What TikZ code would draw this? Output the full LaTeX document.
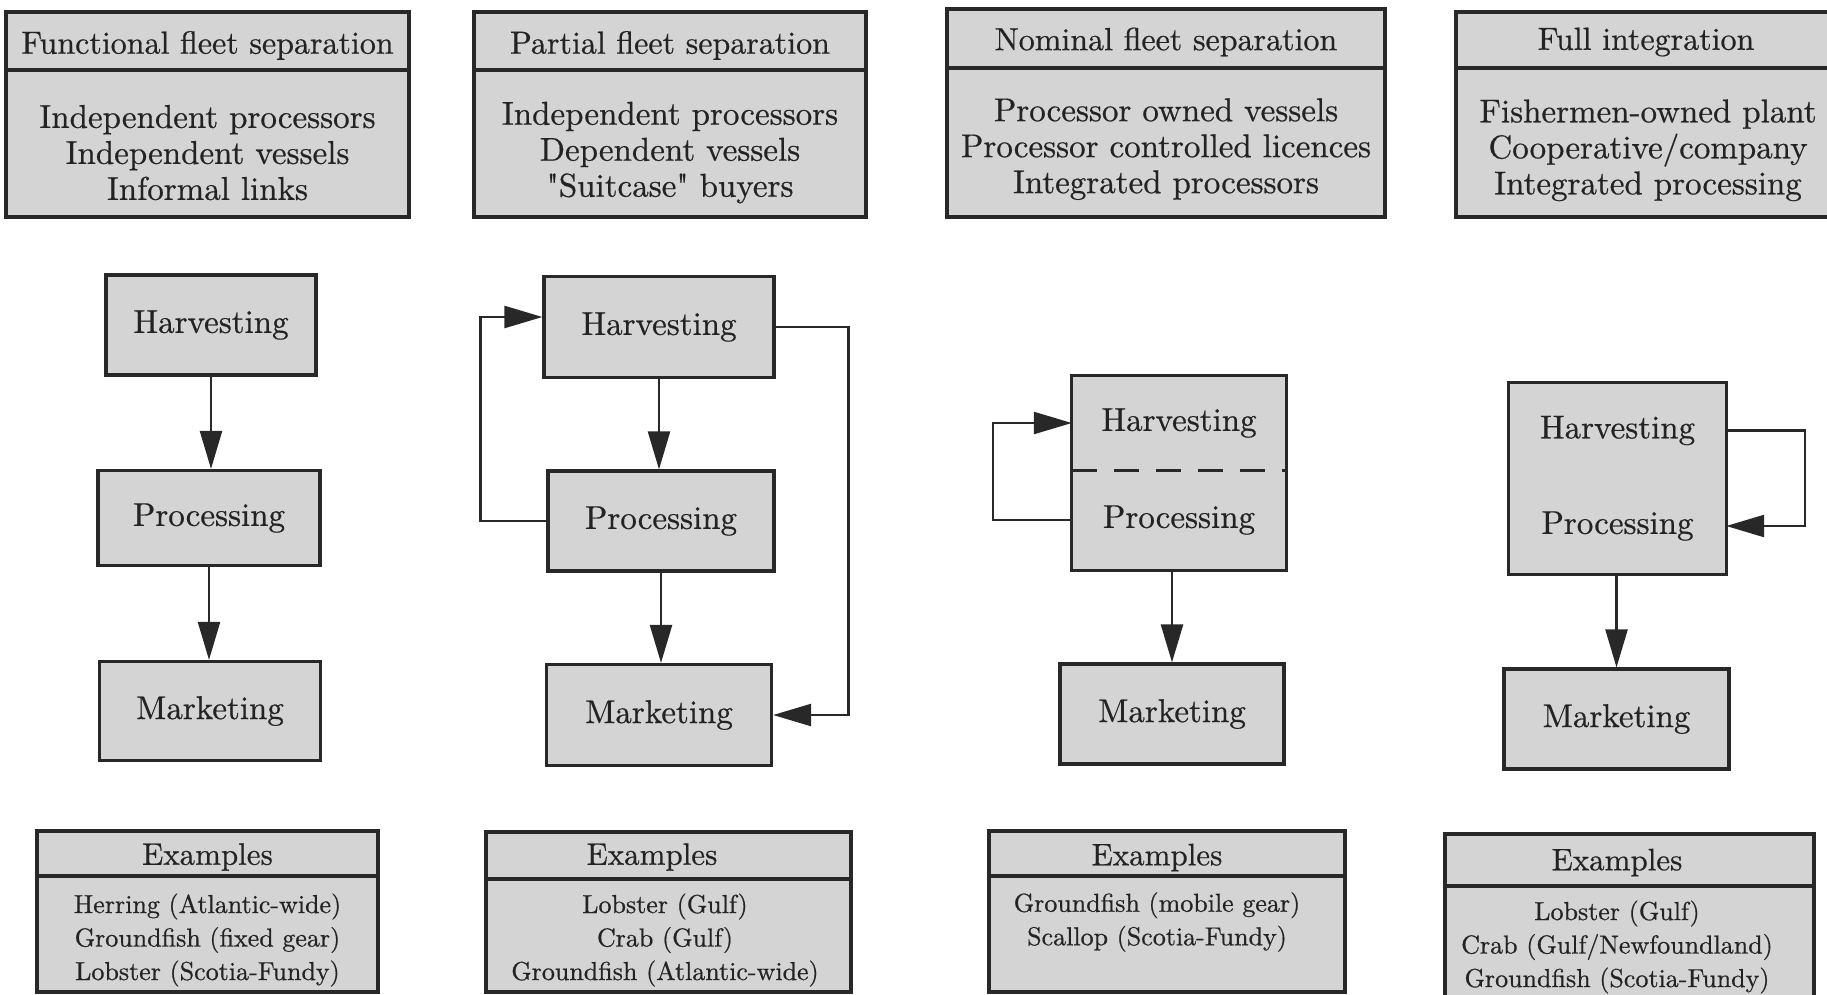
\documentclass[tikz,border=0pt]{standalone}
\usepackage{fontspec}
\setmainfont{lmroman10-regular.otf}[FakeBold=0.6]
\newfontfamily\plainq{lmroman10-regular.otf}[FakeBold=0.6]
\usetikzlibrary{arrows.meta}
\definecolor{boxfill}{RGB}{212,212,212}
\definecolor{ink}{RGB}{40,40,40}
\definecolor{txt}{RGB}{35,35,35}
\newcommand\fsTitle{\fontsize{32}{38}\selectfont}
\newcommand\fsBody{\fontsize{33}{36}\selectfont}
\newcommand\fsFlow{\fontsize{33}{38}\selectfont}
\newcommand\fsExT{\fontsize{31}{36}\selectfont}
\newcommand\fsEx{\fontsize{26}{33.5}\selectfont}
\begin{document}
\begin{tikzpicture}[x=1pt,y=-1pt,
  boxbase/.style={draw=ink, fill=boxfill, line width=3.2pt, inner sep=0pt, text=txt, align=center},
  box/.style={boxbase, minimum width=#1},
  lbl/.style={inner sep=0pt, text=txt, align=center},
  flow/.style={boxbase, font=\fsFlow},
  half/.style={fill=boxfill, draw=none, inner sep=0pt, text=txt, font=\fsFlow, minimum width=#1},
  arr/.style={draw=ink, line width=2.4pt, -{Triangle[length=38pt,width=22pt]}}
]
\useasboundingbox (0,0) rectangle (1827,994);
\clip (0,0) rectangle (1827,994);

% ---- top boxes
\node[box=403pt, minimum height=147pt] (b1) at (207.5,143.5) {};
\node[box=403pt, minimum height=58pt] (t1) at (207.5,41) {};
\node[lbl, font=\fsTitle] (t1l) at (207.5,45.5) {Functional fleet separation};
\node[lbl, font=\fsBody] (b1l) at (207.5,152.6) {Independent processors\\Independent vessels\\Informal links};

\node[box=392pt, minimum height=147pt] (b2) at (670,143.5) {};
\node[box=392pt, minimum height=58pt] (t2) at (670,41) {};
\node[lbl, font=\fsTitle] (t2l) at (670,45.5) {Partial fleet separation};
\node[lbl, font=\fsBody] (b2l) at (670,152.6) {Independent processors\\Dependent vessels\\{\plainq"}Suitcase{\plainq"} buyers};

\node[box=438pt, minimum height=149pt] (b3) at (1166,142.5) {};
\node[box=438pt, minimum height=59pt] (t3) at (1166,38.5) {};
\node[lbl, font=\fsTitle] (t3l) at (1166,42) {Nominal fleet separation};
\node[lbl, font=\fsBody] (b3l) at (1166,149.1) {Processor owned vessels\\Processor controlled licences\\Integrated processors};

\node[box=384pt, minimum height=149pt] (b4) at (1648,142.5) {};
\node[box=384pt, minimum height=56pt] (t4) at (1648,40) {};
\node[lbl, font=\fsTitle] (t4l) at (1646,42) {Full integration};
\node[lbl, font=\fsBody] (b4l) at (1648,150.3) {Fishermen-owned plant\\Cooperative/company\\Integrated processing};

% ---- column 1
\node[flow, minimum width=210pt, minimum height=100pt] (h1) at (211,325) {Harvesting};
\node[flow, minimum width=222pt, minimum height=95pt] (p1) at (209,518) {Processing};
\node[flow, minimum width=221pt, minimum height=99pt] (m1) at (210,711) {Marketing};
\draw[arr] (h1.south) -- (h1.south |- p1.north);
\draw[arr] (p1.south) -- (p1.south |- m1.north);

% ---- column 2
\node[flow, minimum width=230pt, minimum height=101pt] (h2) at (659,327) {Harvesting};
\node[flow, minimum width=226pt, minimum height=100pt] (p2) at (661,521) {Processing};
\node[flow, minimum width=225pt, minimum height=101pt] (m2) at (659,715) {Marketing};
\draw[arr] (h2.south) -- (h2.south |- p2.north);
\draw[arr] (p2.south) -- (p2.south |- m2.north);
\draw[arr] (p2.west) -- ++(-66,0) |- ([yshift=10pt]h2.west);
\draw[arr] (h2.east) -- ++(73,0) |- (m2.east);

% ---- column 3
\node[half=214pt, minimum height=94pt] (h3) at (1179,423) {Harvesting};
\node[half=214pt, minimum height=100pt] (p3) at (1179,520) {Processing};
\draw[draw=ink, line width=3.2pt] (h3.north west) rectangle (p3.south east);
\draw[draw=ink, line width=3pt, dash pattern=on 25pt off 17pt] (h3.south west) -- (h3.south east);
\node[flow, minimum width=224pt, minimum height=100pt] (m3) at (1172,714) {Marketing};
\draw[arr] (p3.west) -- ++(-79,0) |- (h3.west);
\draw[arr] (m3.north |- p3.south) -- (m3.north);

% ---- column 4
\node[half=217pt, minimum height=95pt] (h4) at (1617.5,430.5) {Harvesting};
\node[half=217pt, minimum height=96pt] (p4) at (1617.5,526) {Processing};
\draw[draw=ink, line width=3.2pt] (h4.north west) rectangle (p4.south east);
\node[flow, minimum width=225pt, minimum height=100pt] (m4) at (1616.5,719) {Marketing};
\draw[arr] (h4.east) -- ++(79,0) |- (p4.east);
\draw[arr] (m4.north |- p4.south) -- (m4.north);

% ---- examples
\node[box=341pt, minimum height=116pt] (e1) at (207.5,934) {};
\node[box=341pt, minimum height=45pt] (x1) at (207.5,853.5) {};
\node[lbl, font=\fsExT] (x1l) at (207.5,857) {Examples};
\node[lbl, font=\fsEx] (e1l) at (207.5,940) {Herring (Atlantic-wide)\\Groundfish (fixed gear)\\Lobster (Scotia-Fundy)};

\node[box=365pt, minimum height=113pt] (e2) at (668.5,935.5) {};
\node[box=365pt, minimum height=47pt] (x2) at (668.5,855.5) {};
\node[lbl, font=\fsExT] (x2l) at (652,857) {Examples};
\node[lbl, font=\fsEx] (e2l) at (665,940) {Lobster (Gulf)\\Crab (Gulf)\\Groundfish (Atlantic-wide)};

\node[box=356pt, minimum height=116pt] (e3) at (1167,934) {};
\node[box=356pt, minimum height=45pt] (x3) at (1167,853.5) {};
\node[lbl, font=\fsExT] (x3l) at (1157,857.5) {Examples};
\node[lbl, font=\fsEx] (e3l) at (1157,922) {Groundfish (mobile gear)\\Scallop (Scotia-Fundy)};

\node[box=369pt, minimum height=118pt] (e4) at (1629.5,945) {};
\node[box=369pt, minimum height=52pt] (x4) at (1629.5,860) {};
\node[lbl, font=\fsExT] (x4l) at (1617,862.5) {Examples};
\node[lbl, font=\fsEx] (e4l) at (1617,947) {Lobster (Gulf)\\Crab (Gulf/Newfoundland)\\Groundfish (Scotia-Fundy)};
\end{tikzpicture}
\end{document}
